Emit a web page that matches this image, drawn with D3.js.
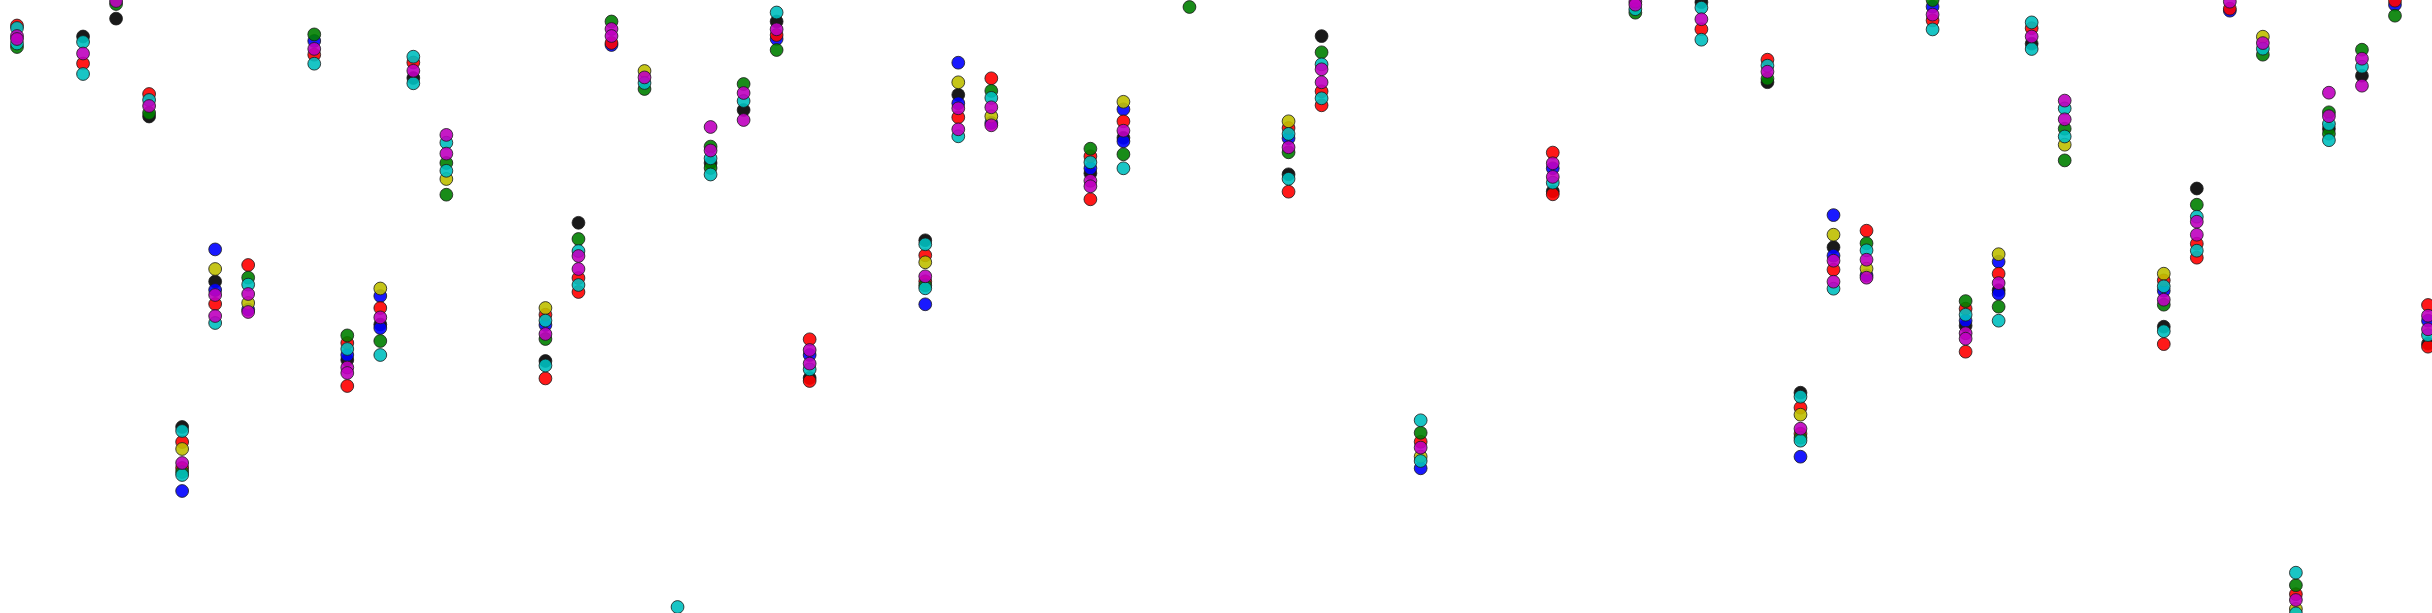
<!DOCTYPE html>
<html>
<head>
<meta charset="utf-8">
<script src="https://cdn.jsdelivr.net/npm/d3@7"></script>
<style>
  html, body { margin: 0; padding: 0; background: #ffffff; }
  svg { display: block; }
</style>
</head>
<body>
<svg id="chart" width="2432" height="613"></svg>
<script>
// Column positions (category positions along x)
const cols = [0,2,3,4,5,6,7,9,10,11,12,13,16,17,18,19,20,21,22,23,24,
  27.5,28.5,29.5,32.5,33.5,35.5,38.5,39.5,42.5,46.5,
  49,51,53,54,55,56,58,59,60,61,62,65,66,67,68,69,70,71,72,73];

// Values per colour series (depth values, one list per column)
const red = [[25.5],[63.5],[],[94],[442,468],[304],[265],[54.7],[343,386],[308],[62.5],[],[314.7,378.4],[278,292],[43],[],[628.5],[],[],[35],[339.3,381],
  [255.3,281.3],[117.3],[78.3],[156.3,199.3],[121.3],[],[128,191.7],[91.3,105.3],[441.8],[152.6,194.3],
  [],[29.2],[59.7],[407.7,433.7],[269.7],[230.7],[20.4],[308.7,351.7],[273.7],[28.2],[],[280.4,344.1],[243.7,257.7],[8.7],[],[594.2],[],[],[0.7],[305,346.7]];
const green = [[47],[],[4],[113],[472],[],[277.6],[34.4],[335.4],[341],[],[163,194.7],[339],[239],[21.5],[89],[619.5],[146.6,168],[84],[50],[],
  [285.3],[],[90.9],[148.7],[154.3],[7],[152.3],[52.3],[432.8],[],
  [12.7],[],[78.7],[437.7],[],[243.3],[0.1],[301.1],[306.7],[],[128.7,160.4],[304.7],[204.7],[],[54.7],[585.2],[112.3,133.7],[49.7],[15.7],[]];
const blue = [[],[],[],[],[491],[249.4,290],[309.6],[41],[355],[296,328],[],[],[325],[],[45],[],[655],[],[],[39],[355],
  [304.3],[62.7,103.3],[122.9],[168.3],[109.3,141.3],[],[138.3],[],[468.3],[168.3],
  [],[],[],[456.7],[215.1,255.7],[275.3],[6.7],[320.7],[261.7,293.7],[],[],[290.7],[],[10.7],[],[620.7],[],[],[4.7],[320.7]];
const cyan = [[28,43.5],[42,74],[],[100],[431,475],[323],[284.6],[63.7],[349],[355],[56.7,83.3],[142.7,170.8],[320.6,365.5],[251,285],[],[83],[607,647.7],[158.3,174.5],[101],[12.5],[369.4],
  [244.3,288.3],[136.3],[97.9],[162.3],[168.3],[],[133.9,178.8],[64.3,98.3],[420.3,461],[182.7],
  [9.2],[7.7,39.7],[65.7],[396.7,440.7],[288.7],[250.3],[29.4],[314.7],[320.7],[22.4,49],[108.4,136.5],[286.3,331.2],[216.7,250.7],[],[48.7],[572.7,613.4],[124,140.2],[66.7],[],[335.1]];
const magenta = [[36,39],[53.5],[1],[106],[463],[295,316],[294,312],[48.9],[367.5,373],[317.4],[70.8],[134.9,153.6],[334],[256,269],[29,36],[77.4],[634.3],[127,150.5],[93,120],[29.3],[350,363.6],
  [276.3],[108.3,129.3],[107.3,125.3],[180.8,186.3],[130.7],[],[147.3],[69.3,82.3],[447.6],[163.3,176.9],
  [1.7,4.7],[19.2],[71.7],[428.7],[260.7,281.7],[259.7,277.7],[14.6],[333.2,338.7],[283.1],[36.5],[100.6,119.3],[299.7],[221.7,234.7],[1.7],[43.1],[600],[92.7,116.2],[58.7,85.7],[],[315.7,329.3]];
const yellow = [[],[],[],[],[449],[269],[303],[],[],[288.5],[],[179],[308],[],[],[71],[643.3],[],[],[],[],
  [262.3],[82.3],[116.3],[],[101.8],[],[121.3],[],[456.6],[],
  [],[],[],[414.7],[234.7],[268.7],[],[],[254.2],[],[144.7],[273.7],[],[],[36.7],[609],[],[],[],[]];
const black = [[],[36.5],[18.6],[116.5],[427],[281.5],[],[],[360],[324.5],[78],[],[361],[222.8],[],[],[],[163],[110],[21.5],[378],
  [240.3],[94.8],[],[173.3],[137.8],[],[174.3],[36.1],[],[191.3],
  [],[2.2],[82.2],[392.7],[247.2],[],[],[325.7],[290.2],[43.7],[],[326.7],[188.5],[],[],[],[128.7],[75.7],[],[343.7]];

const series = [
  { name: "k", color: "#000000", values: black },
  { name: "b", color: "#0000ff", values: blue },
  { name: "r", color: "#ff0000", values: red },
  { name: "g", color: "#008000", values: green },
  { name: "y", color: "#bfbf00", values: yellow },
  { name: "c", color: "#00bfbf", values: cyan },
  { name: "m", color: "#bf00bf", values: magenta }
];

const W = 2432, H = 613;
const svg = d3.select("#chart");
const x = d3.scaleLinear().domain([0, 73]).range([17, 2428]);
const y = d3.scaleLinear().domain([0, 613]).range([0, 613]);

svg.append("defs").append("clipPath").attr("id", "clip")
  .append("rect").attr("x", 0).attr("y", 0).attr("width", W).attr("height", H);

const g = svg.append("g").attr("clip-path", "url(#clip)");

series.forEach(s => {
  const pts = [];
  s.values.forEach((list, i) => list.forEach(v => pts.push({ x: cols[i], v })));
  g.append("g").attr("class", "series-" + s.name)
    .selectAll("circle").data(pts).join("circle")
    .attr("cx", d => x(d.x))
    .attr("cy", d => y(d.v))
    .attr("r", 6.4)
    .attr("fill", s.color)
    .attr("fill-opacity", 0.9)
    .attr("stroke", "#1a1a1a")
    .attr("stroke-opacity", 0.8)
    .attr("stroke-width", 1);
});
</script>
</body>
</html>
